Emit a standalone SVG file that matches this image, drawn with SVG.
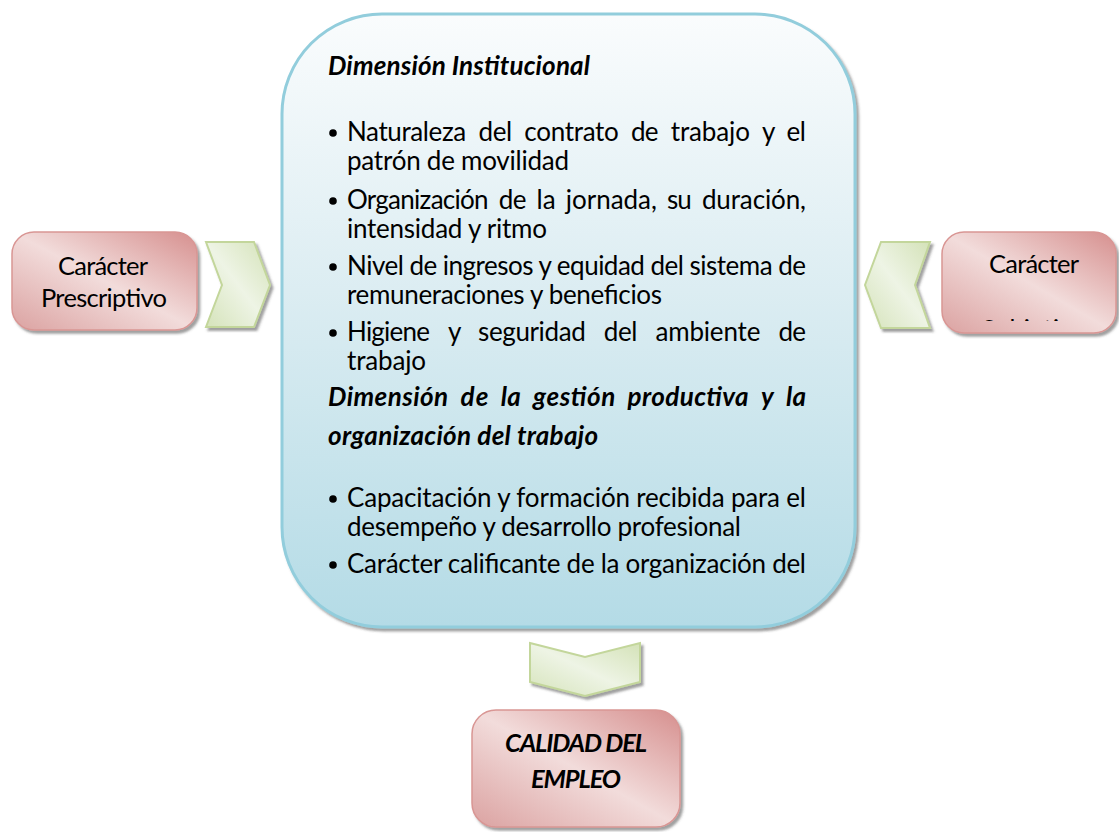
<svg xmlns="http://www.w3.org/2000/svg" width="1119" height="832" viewBox="0 0 1119 832">
<style>
.t{font-family:Lato,"Liberation Sans",sans-serif;font-size:26px;fill:#000}
.bi{font-weight:bold;font-style:italic}
.lbl{font-family:Lato,"Liberation Sans",sans-serif;font-size:25.5px;fill:#000;text-anchor:middle}
.red{fill:url(#gRed);stroke:#d99694;stroke-width:1.5;filter:url(#sh)}
.chev{fill:url(#gGreen);stroke:#c3d69b;stroke-width:2;stroke-linejoin:miter;filter:url(#sh)}
.bul{fill:#000}
</style>
<defs>
<linearGradient id="gMain" x1="0" y1="0" x2="0" y2="1">
<stop offset="0" stop-color="#fafcfd"/>
<stop offset="0.45" stop-color="#dcedf2"/>
<stop offset="1" stop-color="#b4dbe6"/>
</linearGradient>
<linearGradient id="gRed" x1="1" y1="0" x2="0" y2="1">
<stop offset="0" stop-color="#d68f8e"/>
<stop offset="0.5" stop-color="#f2dcdb"/>
<stop offset="1" stop-color="#dba2a1"/>
</linearGradient>
<linearGradient id="gGreen" x1="1" y1="0" x2="0" y2="1">
<stop offset="0" stop-color="#d4e2b8"/>
<stop offset="0.5" stop-color="#eef4e5"/>
<stop offset="1" stop-color="#d5e3ba"/>
</linearGradient>
<filter id="sh" x="-10%" y="-10%" width="130%" height="130%">
<feDropShadow dx="2.5" dy="3" stdDeviation="1.2" flood-color="#404040" flood-opacity="0.5"/>
</filter>
<clipPath id="clipSub"><rect x="940" y="318" width="180" height="3"/></clipPath>
</defs>

<g id="connectors">
<polygon id="chevron-left" class="chev" points="206,242 254,242 270,285 254,327 206,327 222,285"/>
<polygon id="chevron-right" class="chev" points="930,242 881,242 865,285 881,328 930,328 915,285"/>
<polygon id="chevron-down" class="chev" points="530,643 585,657 640,643 640,682 585,696 530,682"/>
</g>

<g id="node-main">
<rect x="282" y="14" width="573" height="613" rx="100" ry="100" fill="url(#gMain)" stroke="#92cddc" stroke-width="3" filter="url(#sh)"/>
<text class="t bi" x="328" y="75" textLength="262" lengthAdjust="spacing">Dimensión Institucional</text>

<circle class="bul" cx="333" cy="133" r="3.8"/>
<text class="t" y="141"><tspan x="347" textLength="119.2">Naturaleza</tspan> <tspan x="478.4" textLength="33.8">del</tspan> <tspan x="524.3" textLength="94.5">contrato</tspan> <tspan x="631" textLength="27.6">de</tspan> <tspan x="670.7" textLength="79.2">trabajo</tspan> <tspan x="762.1" textLength="12.2">y</tspan> <tspan x="786.4" textLength="19.6">el</tspan></text>
<text class="t" x="347" y="170" textLength="222" lengthAdjust="spacing">patrón de movilidad</text>

<circle class="bul" cx="333" cy="201" r="3.8"/>
<text class="t" y="209"><tspan x="347" textLength="141.6">Organización</tspan> <tspan x="498.8" textLength="27.6">de</tspan> <tspan x="536.5" textLength="19.1">la</tspan> <tspan x="565.8" textLength="91.1">jornada,</tspan> <tspan x="667" textLength="24.7">su</tspan> <tspan x="701.9" textLength="104.1">duración,</tspan></text>
<text class="t" x="347" y="238" textLength="200" lengthAdjust="spacing">intensidad y ritmo</text>

<circle class="bul" cx="333" cy="267" r="3.8"/>
<text class="t" x="347" y="275" textLength="459" lengthAdjust="spacing">Nivel de ingresos y equidad del sistema de</text>
<text class="t" x="347" y="304" textLength="315" lengthAdjust="spacing">remuneraciones y beneficios</text>

<circle class="bul" cx="333" cy="333" r="3.8"/>
<text class="t" y="341"><tspan x="347" textLength="83">Higiene</tspan> <tspan x="447.9" textLength="12.2">y</tspan> <tspan x="478" textLength="107.8">seguridad</tspan> <tspan x="603.7" textLength="33.8">del</tspan> <tspan x="655.4" textLength="105">ambiente</tspan> <tspan x="778.4" textLength="27.6">de</tspan></text>
<text class="t" x="347" y="370" textLength="79" lengthAdjust="spacing">trabajo</text>

<text class="t bi" y="406"><tspan x="328" textLength="120.1">Dimensión</tspan> <tspan x="460.4" textLength="28.1">de</tspan> <tspan x="500.8" textLength="20">la</tspan> <tspan x="533.1" textLength="82.2">gestión</tspan> <tspan x="627.6" textLength="121">productiva</tspan> <tspan x="760.9" textLength="12.8">y</tspan> <tspan x="786" textLength="20">la</tspan></text>
<text class="t bi" x="328" y="445" textLength="270" lengthAdjust="spacing">organización del trabajo</text>

<circle class="bul" cx="333" cy="499" r="3.8"/>
<text class="t" x="347" y="507" textLength="459" lengthAdjust="spacing">Capacitación y formación recibida para el</text>
<text class="t" x="347" y="536" textLength="394" lengthAdjust="spacing">desempeño y desarrollo profesional</text>

<circle class="bul" cx="333" cy="565" r="3.8"/>
<text class="t" x="347" y="573" textLength="459" lengthAdjust="spacing">Carácter calificante de la organización del</text>
</g>

<g id="node-left">
<rect class="red" x="12" y="232" width="185" height="98" rx="22" ry="22"/>
<text class="lbl" x="103" y="275" textLength="90" lengthAdjust="spacing">Carácter</text>
<text class="lbl" x="104" y="307" textLength="126" lengthAdjust="spacing">Prescriptivo</text>
</g>

<g id="node-right">
<rect class="red" x="942" y="232" width="174" height="101" rx="22" ry="22"/>
<text class="lbl" x="1034" y="273" textLength="90" lengthAdjust="spacing">Carácter</text>
<text class="lbl" x="1034" y="338" clip-path="url(#clipSub)">Subjetivo</text>
</g>

<g id="node-bottom">
<rect class="red" x="472" y="710" width="208" height="117" rx="24" ry="24"/>
<text class="lbl bi" x="576" y="752" textLength="142" lengthAdjust="spacing">CALIDAD DEL</text>
<text class="lbl bi" x="576" y="788" textLength="90" lengthAdjust="spacing">EMPLEO</text>
</g>
</svg>
